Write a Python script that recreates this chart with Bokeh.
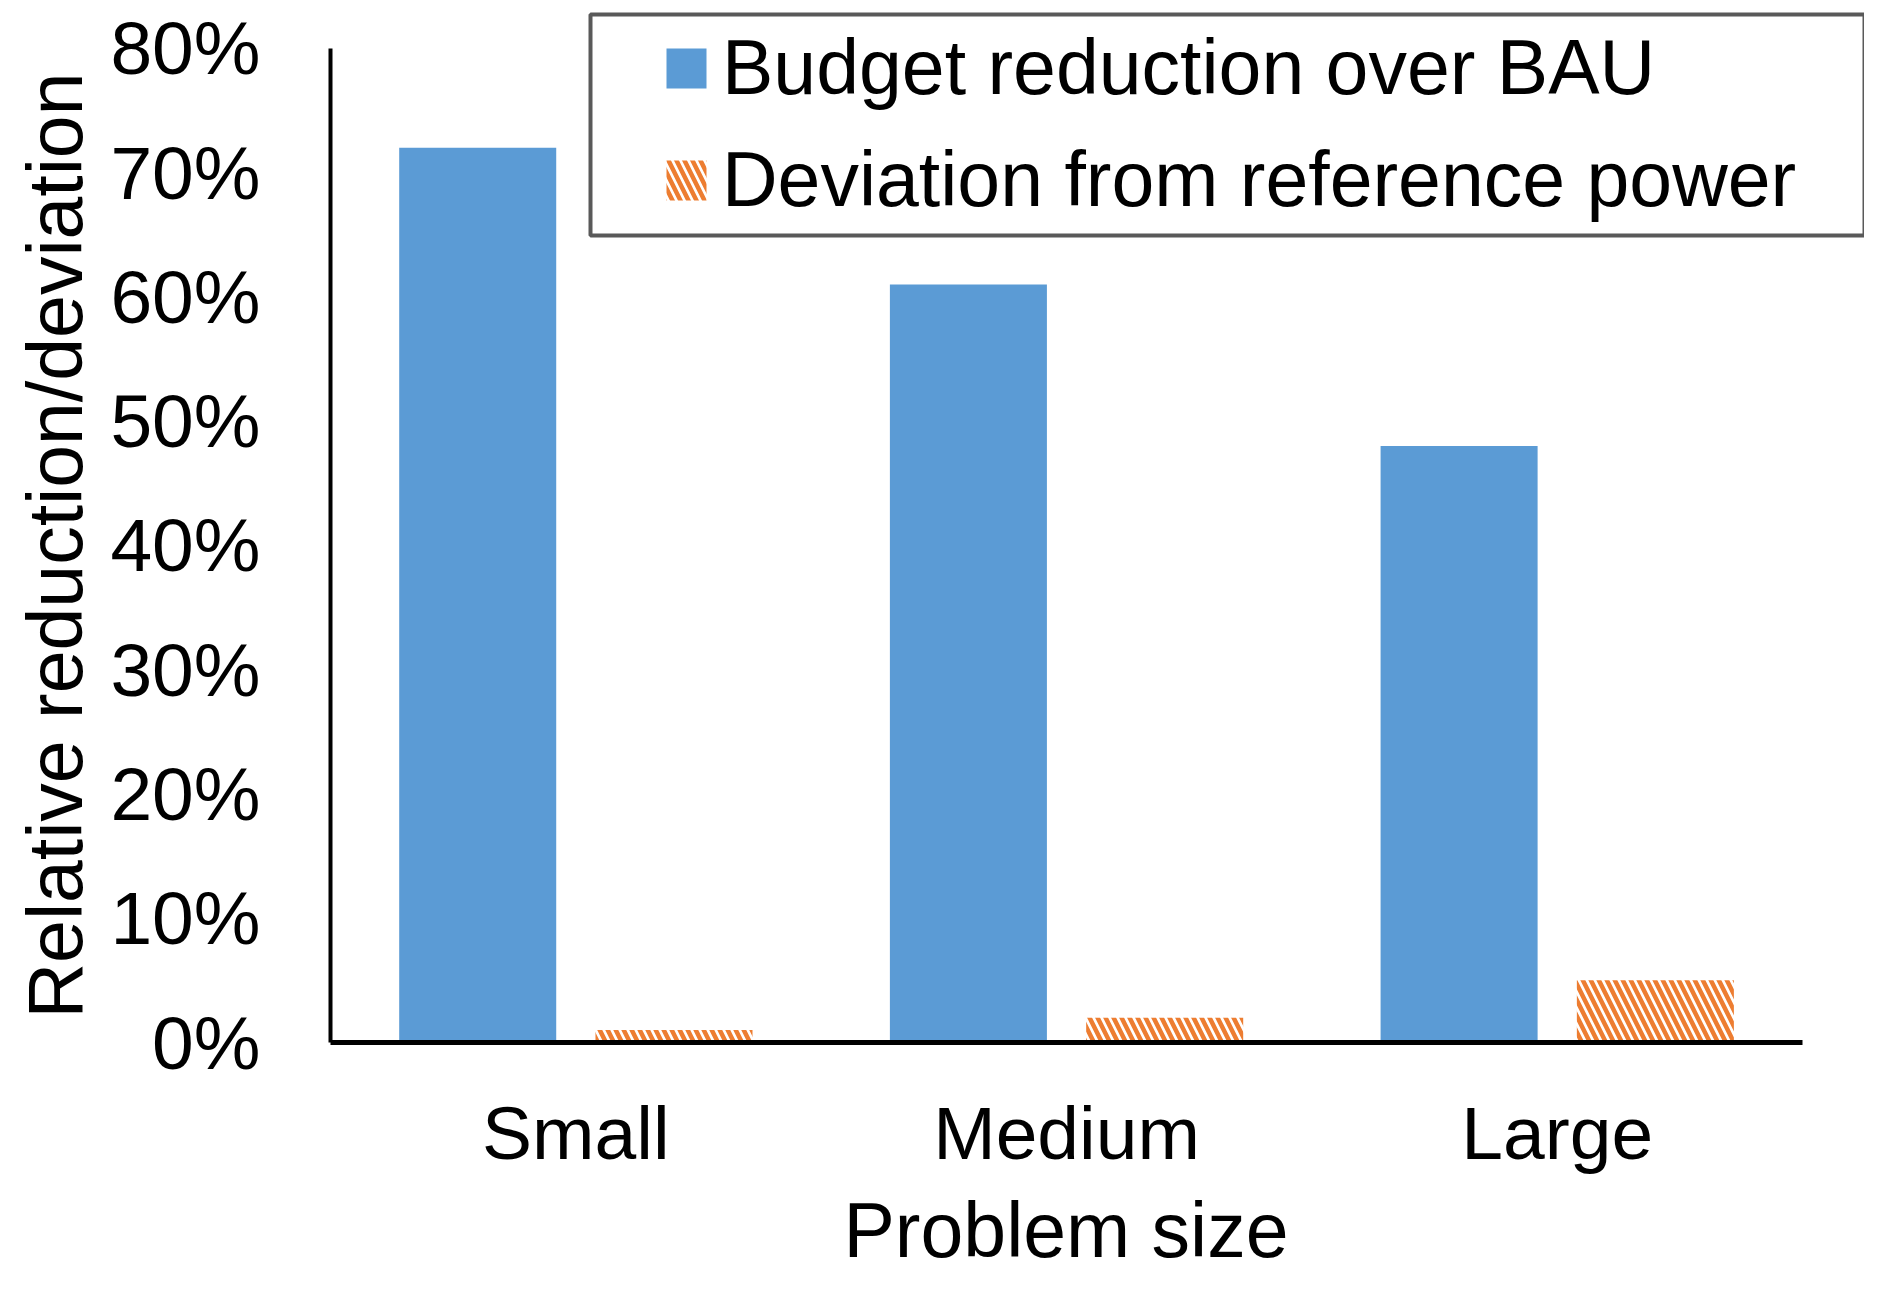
from bokeh.plotting import figure
from bokeh.models import (ColumnDataSource, Range1d, FixedTicker, Title,
                          NumeralTickFormatter, Legend, LegendItem, BoxAnnotation)
from bokeh.transform import dodge
from bokeh.embed import file_html
from bokeh.resources import INLINE

categories = ["Small", "Medium", "Large"]
budget_reduction = [0.72, 0.61, 0.48]
deviation = [0.01, 0.02, 0.05]
y_ticks = [0.0, 0.1, 0.2, 0.3, 0.4, 0.5, 0.6, 0.7, 0.8]
series_labels = ["Budget reduction over BAU", "Deviation from reference power"]
x_title = "Problem size"
y_title = "Relative reduction/deviation"

FONT = "Liberation Sans"
BLUE = "#5B9BD5"
ORANGE = "#ED7D31"

# category slots 0..N on a linear scale, one unit per category
centers = [i + 0.5 for i in range(len(categories))]
n_cat = len(categories)
y_max = y_ticks[-1]

src = ColumnDataSource(dict(x=centers, cat=categories,
                            budget=budget_reduction, dev=deviation))

FRAME_LEFT = 328
FRAME_TOP = 0
FRAME_BOTTOM = 1044
W, H = 1864, 1280
unit_x = 1474 / n_cat
unit_y = 996 / y_max

p = figure(width=W, height=H,
           x_range=Range1d(0, (W - FRAME_LEFT) / unit_x),
           y_range=Range1d(0, (FRAME_BOTTOM - FRAME_TOP) / unit_y),
           output_backend="svg", toolbar_location=None,
           min_border_left=FRAME_LEFT, min_border_right=0,
           min_border_top=FRAME_TOP, min_border_bottom=H - FRAME_BOTTOM)

r1 = p.vbar(x=dodge("x", -0.2), top="budget", width=0.32,
            source=src, fill_color=BLUE, line_color=None)
r2 = p.vbar(x=dodge("x", 0.2), top="dev", width=0.32,
            source=src, fill_color=None, line_color=None,
            hatch_pattern="\\", hatch_color=ORANGE, hatch_scale=16, hatch_weight=4.5)

p.xgrid.visible = False
p.ygrid.visible = False
p.outline_line_color = None
p.background_fill_color = "white"
p.border_fill_color = "white"

# y axis
ya = p.yaxis[0]
ya.bounds = (0, y_max)
ya.ticker = FixedTicker(ticks=y_ticks)
ya.formatter = NumeralTickFormatter(format="0%")
ya.axis_line_color = "black"
ya.axis_line_width = 4
ya.major_tick_line_color = None
ya.minor_tick_line_color = None
ya.major_tick_out = 0
ya.major_tick_in = 0
ya.major_label_standoff = 70
ya.major_label_text_font = FONT
ya.major_label_text_font_size = "75px"
ya.major_label_text_color = "black"

# x axis
xa = p.xaxis[0]
xa.bounds = (0, n_cat)
xa.ticker = FixedTicker(ticks=centers)
xa.major_label_overrides = {c: name for c, name in zip(centers, categories)}
xa.axis_line_color = "black"
xa.axis_line_width = 5
xa.major_tick_line_color = None
xa.minor_tick_line_color = None
xa.major_tick_out = 0
xa.major_tick_in = 0
xa.major_label_standoff = 48
xa.major_label_text_font = FONT
xa.major_label_text_font_size = "75px"
xa.major_label_text_color = "black"

# axis titles as side titles, so they can be placed along the axes
xt = Title(text=x_title, align="left", offset=513, standoff=15,
           vertical_align="bottom",
           text_font=FONT, text_font_size="77px", text_font_style="normal",
           text_color="black")
p.add_layout(xt, "below")
yt = Title(text=y_title, align="left", offset=24, standoff=19,
           vertical_align="bottom",
           text_font=FONT, text_font_size="77px", text_font_style="normal",
           text_color="black")
p.add_layout(yt, "left")

legend = Legend(items=[LegendItem(label=series_labels[0], renderers=[r1]),
                       LegendItem(label=series_labels[1], renderers=[r2])],
                location=(331, 818), orientation="vertical",
                border_line_color=None, background_fill_alpha=0,
                padding=0, margin=0, spacing=23,
                glyph_width=50, glyph_height=50, label_standoff=11,
                label_height=88,
                label_text_font=FONT, label_text_font_size="77px",
                label_text_color="black")
p.add_layout(legend, "center")

box = BoxAnnotation(left=260, right=1534, bottom=807, top=1028,
                    left_units="screen", right_units="screen",
                    top_units="screen", bottom_units="screen",
                    fill_color=None, fill_alpha=0,
                    line_color="#595959", line_alpha=1.0, line_width=4)
p.add_layout(box)

open("out.html", "w").write(file_html(p, INLINE))
